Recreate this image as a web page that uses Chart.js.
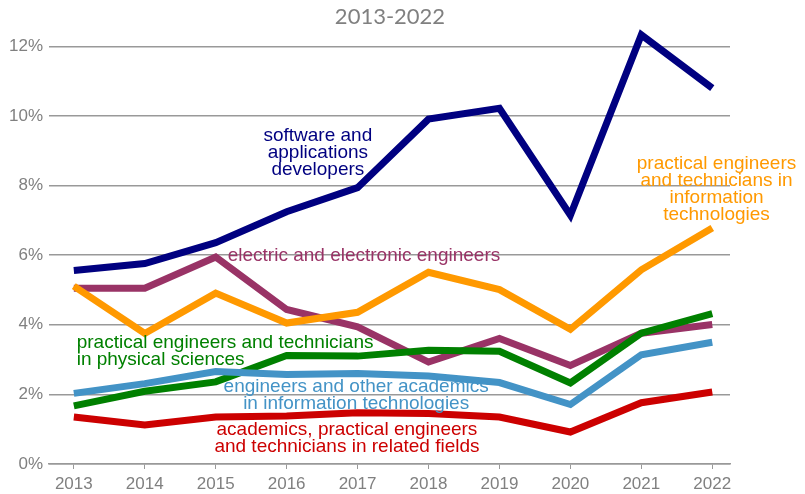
<!DOCTYPE html>
<html>
<head>
<meta charset="utf-8">
<script src="https://cdn.jsdelivr.net/npm/chart.js@4"></script>
<style>
  html, body { margin: 0; padding: 0; background: #fff; }
  #wrap { width: 805px; height: 494px; }
</style>
</head>
<body>
<div id="wrap"><canvas id="occChart"></canvas></div>
<script>
/* Years and share of each occupation (%) */
const years = [2013, 2014, 2015, 2016, 2017, 2018, 2019, 2020, 2021, 2022];
const softwareDev = [5.56, 5.76, 6.36, 7.25, 7.94, 9.91, 10.22, 7.15, 12.33, 10.8];
const electricEng = [5.05, 5.05, 5.95, 4.44, 3.94, 2.93, 3.61, 2.83, 3.76, 4.01];
const practicalIT = [5.11, 3.75, 4.91, 4.05, 4.36, 5.51, 5.01, 3.87, 5.58, 6.78];
const practicalPhys = [1.67, 2.09, 2.36, 3.12, 3.1, 3.27, 3.24, 2.33, 3.76, 4.32];
const academicsIT = [2.03, 2.31, 2.66, 2.57, 2.6, 2.53, 2.34, 1.71, 3.14, 3.5];
const academicsRel = [1.35, 1.12, 1.35, 1.38, 1.47, 1.45, 1.35, 0.92, 1.76, 2.07];
const yTicks = [0, 2, 4, 6, 8, 10, 12];

/* Text placed next to the lines: anchor given in chart units (year, %) */
const lineLabels = [
    { lines: ['software and', 'applications', 'developers'], x: 2016.44, y: 9.42, color: '#000080', align: 'center' },
    { lines: ['electric and electronic engineers'], x: 2017.09, y: 5.99, color: '#993366', align: 'center' },
    { lines: ['practical engineers', 'and technicians in', 'information', 'technologies'], x: 2022.06, y: 8.62, color: '#ff9900', align: 'center' },
    { lines: ['practical engineers and technicians', 'in physical sciences'], x: 2013.04, y: 3.49, color: '#008000', align: 'left' },
    { lines: ['engineers and other academics', 'in information technologies'], x: 2016.98, y: 2.21, color: '#4393c6', align: 'center' },
    { lines: ['academics, practical engineers', 'and technicians in related fields'], x: 2016.85, y: 0.97, color: '#cc0000', align: 'center' }
];

function toPoints(values) {
    return values.map((v, i) => ({ x: years[i], y: v }));
}

function lineSet(label, values, color) {
    return {
        label: label,
        data: toPoints(values),
        borderColor: color,
        backgroundColor: color,
        borderWidth: 7,
        borderCapStyle: 'butt',
        borderJoinStyle: 'miter',
        pointRadius: 0,
        pointHoverRadius: 0,
        tension: 0,
        clip: false
    };
}

/* Draws the series names inside the plot, and nudges the title right */
const lineLabelPlugin = {
    id: 'lineLabels',
    afterLayout(chart) {
        const t = chart.titleBlock;
        if (t) { t.left += 25; t.right += 25; }
    },
    afterDatasetsDraw(chart) {
        const ctx = chart.ctx;
        const xs = chart.scales.x;
        const ys = chart.scales.y;
        ctx.save();
        ctx.font = '19px "Liberation Sans", Arial, sans-serif';
        ctx.textBaseline = 'middle';
        lineLabels.forEach(lb => {
            const px = xs.getPixelForValue(lb.x);
            const py = ys.getPixelForValue(lb.y);
            ctx.fillStyle = lb.color;
            ctx.textAlign = lb.align;
            lb.lines.forEach((t, i) => ctx.fillText(t, px, py + i * 17));
        });
        ctx.restore();
    }
};

const chartEl = document.getElementById('occChart');
new Chart(chartEl, {
    type: 'line',
    data: {
        datasets: [
            lineSet('engineers and other academics in information technologies', academicsIT, '#4393c6'),
            lineSet('practical engineers and technicians in physical sciences', practicalPhys, '#008000'),
            lineSet('practical engineers and technicians in information technologies', practicalIT, '#ff9900'),
            lineSet('electric and electronic engineers', electricEng, '#993366'),
            lineSet('software and applications developers', softwareDev, '#000080'),
            lineSet('academics, practical engineers and technicians in related fields', academicsRel, '#cc0000')
        ]
    },
    options: {
        responsive: true,
        maintainAspectRatio: false,
        animation: false,
        layout: { padding: { top: 0, right: 75, bottom: 0, left: 0 } },
        plugins: {
            legend: { display: false },
            tooltip: { enabled: false },
            title: {
                display: true,
                text: '2013-2022',
                color: '#808080',
                font: { family: 'Lato, "Open Sans", sans-serif', size: 22, weight: 'normal' },
                padding: { top: 4, bottom: 16 }
            }
        },
        scales: {
            x: {
                type: 'linear',
                min: 2012.65,
                max: 2022.25,
                afterBuildTicks: scale => { scale.ticks = years.map(v => ({ value: v })); },
                afterFit: scale => { scale.height = 30; },
                ticks: {
                    color: '#808080',
                    font: { family: '"Liberation Sans", Arial, sans-serif', size: 17 },
                    padding: 5,
                    callback: v => String(v)
                },
                grid: {
                    drawOnChartArea: false,
                    drawTicks: true,
                    tickLength: 5,
                    color: '#999999'
                },
                border: { display: true, color: '#999999', width: 1.5 }
            },
            y: {
                min: 0,
                max: 12,
                afterBuildTicks: scale => { scale.ticks = yTicks.map(v => ({ value: v })); },
                afterFit: scale => { scale.width = 49; },
                ticks: {
                    color: '#808080',
                    font: { family: '"Liberation Sans", Arial, sans-serif', size: 17 },
                    padding: 6,
                    callback: v => v + '%'
                },
                grid: {
                    drawTicks: false,
                    color: '#999999',
                    lineWidth: 1.5
                },
                border: { display: false }
            }
        }
    },
    plugins: [lineLabelPlugin]
});
</script>
</body>
</html>
